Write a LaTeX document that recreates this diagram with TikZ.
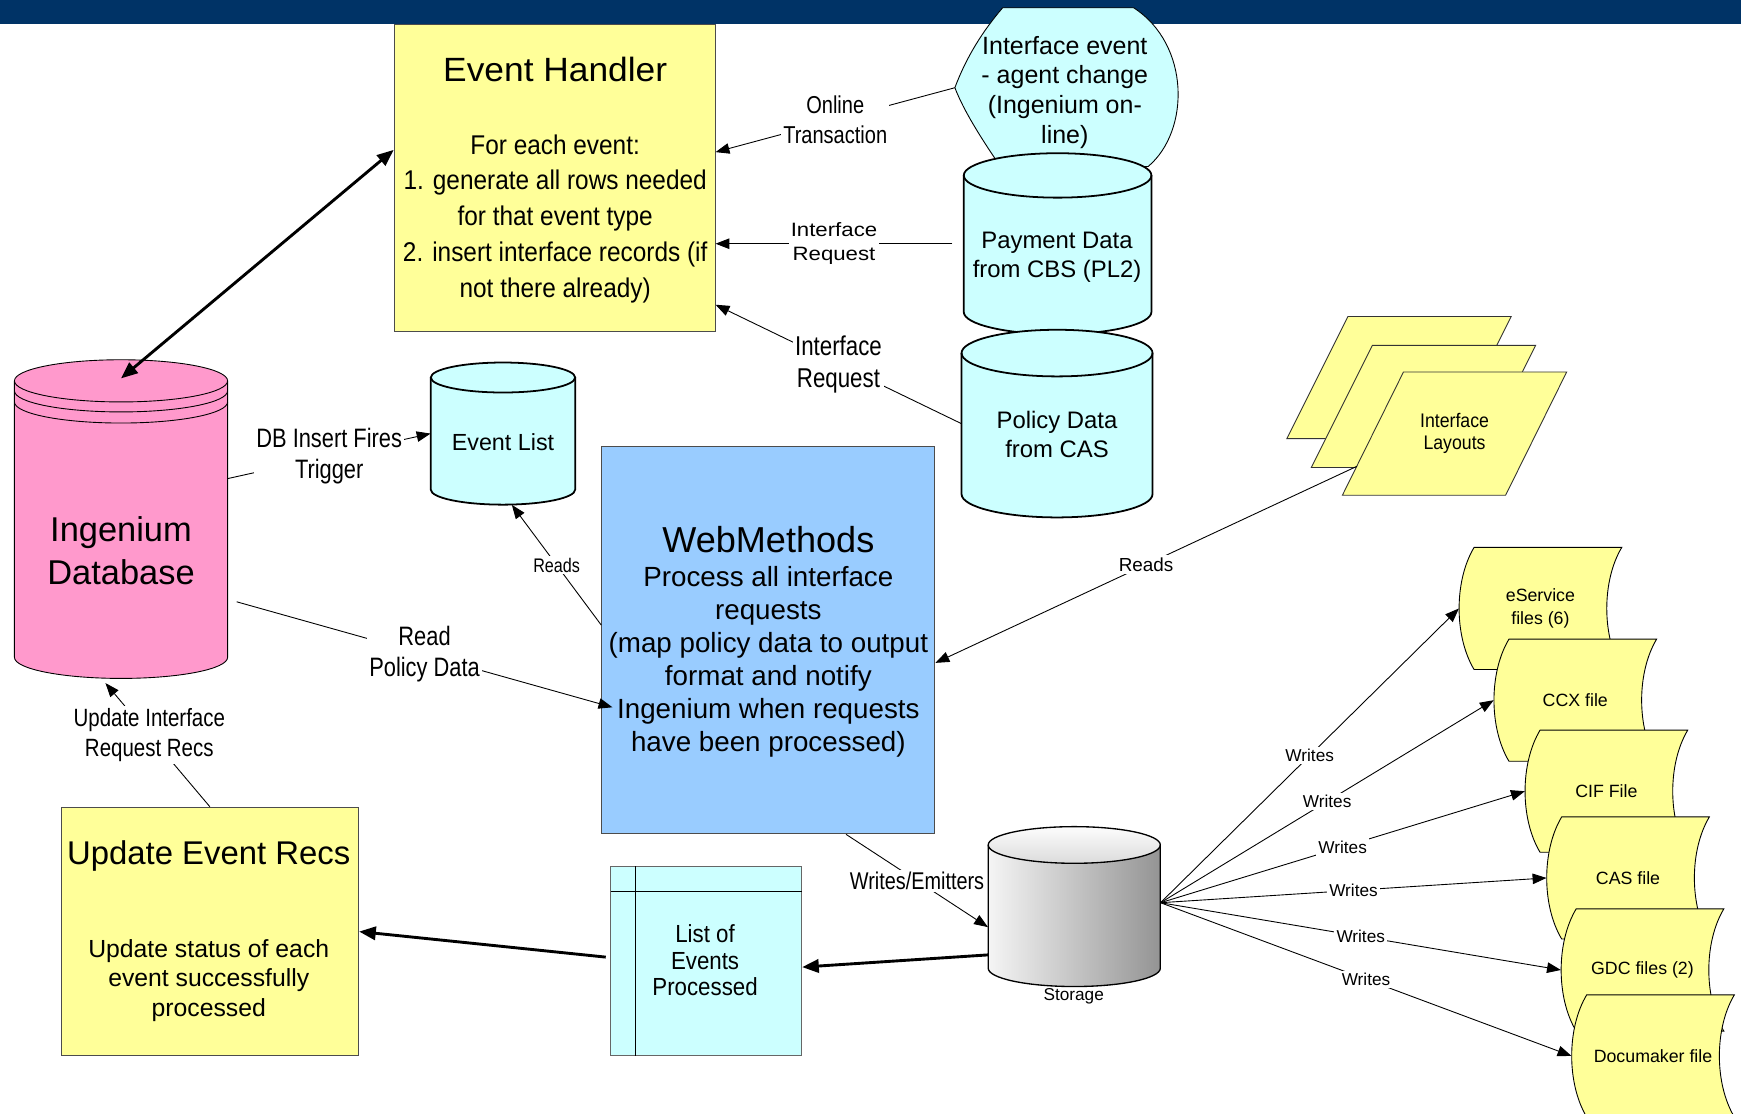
\documentclass[tikz,border=0pt]{standalone}
\usepackage{fontspec}
\setmainfont{Liberation Sans}
\newfontfamily\fN[FakeStretch=0.82]{Liberation Sans}
\newfontfamily\fS[FakeStretch=0.9]{Liberation Sans}
\newfontfamily\fW[FakeStretch=1.15]{Liberation Sans}
\newfontfamily\fT[FakeStretch=1.05]{Liberation Sans}
\usetikzlibrary{arrows.meta,calc}
\definecolor{hdr}{RGB}{0,51,102}
\definecolor{ylw}{RGB}{255,255,153}
\definecolor{cyn}{RGB}{204,255,255}
\definecolor{pnk}{RGB}{255,153,204}
\definecolor{blu}{RGB}{153,204,255}
\newcommand\fsz[2]{\fontsize{#1pt}{#2pt}\selectfont}
% name, cx, top-center y, bottom-center y, rx, ry, fill, line width
\newcommand\mycyl[8]{%
  \path[fill=#7] (#2-#5,#3) -- (#2-#5,#4) .. controls (#2-#5,#4+0.5523*#6) and (#2-0.5523*#5,#4+#6) .. (#2,#4+#6) .. controls (#2+0.5523*#5,#4+#6) and (#2+#5,#4+0.5523*#6) .. (#2+#5,#4) -- (#2+#5,#3) -- cycle;
  \draw[line width=#8, fill=#7] (#2,#3) ellipse [x radius=#5pt, y radius=#6pt];
  \draw[line width=#8] (#2-#5,#3) -- (#2-#5,#4) .. controls (#2-#5,#4+0.5523*#6) and (#2-0.5523*#5,#4+#6) .. (#2,#4+#6) .. controls (#2+0.5523*#5,#4+#6) and (#2+#5,#4+0.5523*#6) .. (#2+#5,#4) -- (#2+#5,#3);
  \node[inner sep=0pt, minimum width={2*#5*1pt}, minimum height={(#4-#3+2*#6)*1pt}] (#1) at (#2,{(#3+#4)/2}) {};
}
% name, X (top-left), Y (top), text
\newcommand\myfile[4]{%
  \draw[line width=0.8pt, fill=ylw] (#2,#3) -- (#2+133,#3) .. controls (#2+115,#3+30) and (#2+115,#3+80) .. (#2+133,#3+110) -- (#2,#3+110) .. controls (#2-18,#3+80) and (#2-18,#3+30) .. (#2,#3) -- cycle;
  \node[inner sep=0pt, align=center, font=\fsz{16}{20}, minimum width=146.5pt, minimum height=110pt] (#1) at (#2+59.75,#3+55) {#4};
}
\tikzset{
  conn/.style={draw=black, line width=0.8pt},
  arr/.style={conn, -{Triangle[length=12.5pt,width=9.5pt]}},
  dblarr/.style={draw=black, line width=2.6pt, {Triangle[length=15pt,width=12pt]}-{Triangle[length=15pt,width=12pt]}},
  thickarr/.style={draw=black, line width=2.6pt, -{Triangle[length=15pt,width=12pt]}},
  lbl/.style={fill=white, inner sep=2pt, align=center},
  boxst/.style={draw=black!70, line width=0.9pt, inner sep=0pt},
  para/.style={draw=black!80, line width=0.8pt, fill=ylw},
  txt/.style={inner sep=0pt, align=center},
}
\begin{document}
\begin{tikzpicture}[x=1pt, y=-1pt]
\useasboundingbox (0,0) rectangle (1568,1003);
\clip (0,0) rectangle (1568,1003);
% header bar
\fill[hdr] (0,0) rectangle (1568,22);

% display shape: interface event
\draw[line width=0.8pt, fill=cyn] (903,7) -- (1021,7) .. controls (1072,40) and (1072,118) .. (1034,150) -- (901,150) .. controls (884,125) and (868,100) .. (860,79) .. controls (870,52) and (885,28) .. (903,7) -- cycle;
\coordinate (ievpt) at (860,79);
\node[txt, font=\fsz{22.5}{26.7}] (iev) at (959,83) {Interface event\\- agent change\\(Ingenium on-\\line)};

% Event Handler
\node[boxst, fill=ylw, minimum width=289pt, minimum height=277pt] (eh) at (499.5,160.5) {};
\node[txt, font={\fT\fsz{30.3}{34}}] (ehT) at (500,63) {Event Handler};
\node[txt, font={\fS\fsz{24.4}{32.25}}] (ehB) at (500,197) {For each event:\\1. generate all rows needed\\for that event type\\2. insert interface records (if\\not there already)};

% Payment / Policy cylinders
\mycyl{pay}{952.5}{158}{281}{84.5}{20}{cyn}{1.6pt}
\node[txt, font=\fsz{21.5}{26}] (payT) at (952,232) {Payment Data\\from CBS (PL2)};
\mycyl{pol}{952}{318}{445}{86}{21}{cyn}{1.6pt}
\node[txt, font=\fsz{21.5}{26}] (polT) at (952,391) {Policy Data\\from CAS};

% Ingenium Database
\mycyl{db}{109}{343}{592}{96}{19}{pnk}{0.8pt}
\draw[line width=0.8pt] (13,352) .. controls (13,362.5) and (56,371) .. (109,371) .. controls (162,371) and (205,362.5) .. (205,352);
\draw[line width=0.8pt] (13,362) .. controls (13,372.5) and (56,381) .. (109,381) .. controls (162,381) and (205,372.5) .. (205,362);
\node[txt, font=\fsz{31}{39}] (dbT) at (109,496) {Ingenium\\Database};

% Event List
\mycyl{el}{453}{340}{441}{65}{13.5}{cyn}{1.6pt}
\node[txt, font=\fsz{21}{25}] (elT) at (453,398) {Event List};

% WebMethods
\node[boxst, fill=blu, minimum width=300pt, minimum height=349pt] (wm) at (692,576.5) {};
\node[txt, font=\fsz{32.5}{36}] (wmT) at (692,486) {WebMethods};
\node[txt, font=\fsz{25}{29.8}] (wmB) at (692,596) {Process all interface\\requests\\(map policy data to output\\format and notify\\Ingenium when requests\\have been processed)};

% Interface Layouts (stacked)
\draw[para] (1214,285) -- (1361,285) -- (1306,395) -- (1159,395) -- cycle;
\draw[para] (1236,311) -- (1383,311) -- (1328,421) -- (1181,421) -- cycle;
\draw[para] (1264,335) -- (1411,335) -- (1356,446) -- (1209,446) -- cycle;
\node[txt, font={\fS\fsz{17.7}{20}}] (lay) at (1310,390) {Interface\\Layouts};
\coordinate (layin) at (1222,420);

% output files
\myfile{fes}{1327.6}{493}{eService\\files (6)}
\myfile{fccx}{1359}{575.6}{CCX file}
\myfile{fcif}{1387}{657.6}{CIF File}
\myfile{fcas}{1406.5}{735.7}{CAS file}
\myfile{fgdc}{1419.5}{818.6}{GDC files (2)}
\myfile{fdoc}{1429}{896}{Documaker file}

% Storage
\shade[left color=black!4, right color=black!42] (890,761) -- (890,872) .. controls (890,881.1) and (924.7,888.5) .. (967.5,888.5) .. controls (1010.3,888.5) and (1045,881.1) .. (1045,872) -- (1045,761) -- cycle;
\shade[top color=black!1, bottom color=black!14] (967.5,761) ellipse [x radius=77.5pt, y radius=16.5pt];
\draw[line width=1.2pt] (967.5,761) ellipse [x radius=77.5pt, y radius=16.5pt];
\draw[line width=1.2pt] (890,761) -- (890,872) .. controls (890,881.1) and (924.7,888.5) .. (967.5,888.5) .. controls (1010.3,888.5) and (1045,881.1) .. (1045,872) -- (1045,761);
\node[inner sep=0pt, minimum width=155pt, minimum height=144pt] (sto) at (967.5,816.5) {};
\node[txt, font=\fsz{15.5}{18}] (stoT) at (967,897) {Storage};

% List of Events Processed
\node[draw=black!60, line width=0.9pt, fill=cyn, minimum width=172pt, minimum height=171pt, inner sep=0pt] (lst) at (636,865.5) {};
\draw[line width=0.7pt] (572.5,780) -- (572.5,951);
\draw[line width=0.7pt] (550,803) -- (722,803);
\node[txt, font={\fS\fsz{22.3}{24}}] (lstT) at (635,865) {List of\\Events\\Processed};

% Update Event Recs
\node[boxst, fill=ylw, minimum width=268pt, minimum height=224pt] (uer) at (189,839) {};
\node[txt, font=\fsz{29.6}{34}] (uerT) at (188,771) {Update Event Recs};
\node[txt, font=\fsz{22.3}{26.5}] (uerB) at (188,883) {Update status of each\\event successfully\\processed};

% connectors
\draw[dblarr] ([yshift=-17pt]db.north) -- ([yshift=25.5pt]eh.west);
\draw[arr] (ievpt) -- node[lbl, font={\fN\fsz{22}{27}}] {Online\\Transaction} ([yshift=23.5pt]eh.east);
\draw[arr] ([xshift=-10pt]pay.west) -- node[lbl, font={\fW\fsz{17.4}{22}}] {Interface\\Request} (pay.west -| eh.east);
\draw[arr] (pol.west) -- node[lbl, font={\fN\fsz{24.5}{29}}] {Interface\\Request} ([yshift=25pt]eh.south east);
\draw[arr] ([yshift=36.5pt]db.east) -- node[lbl, font={\fN\fsz{24}{28}}] {DB Insert Fires\\Trigger} (el.west);
\draw[arr] ([yshift=13.5pt]wm.west) -- node[lbl, font={\fN\fsz{17.7}{20}}] {Reads} ([xshift=8pt]el.south);
\draw[arr] ([xshift=8pt,yshift=-74.5pt]db.east) -- node[lbl, font={\fN\fsz{24}{28}}] {Read\\Policy Data} ([xshift=10pt,yshift=-60.5pt]wm.west);
\draw[arr] (layin) -- node[lbl, font=\fsz{17}{20}] {Reads} ([yshift=-20.5pt]wm.east);
\draw[arr] (uer.north) -- node[lbl, pos=0.58, font={\fN\fsz{22.5}{27}}] {Update Interface\\Request Recs} ([xshift=-14pt,yshift=-4pt]db.south);
\draw[arr] ([xshift=70pt]wm.south) -- node[lbl, font={\fN\fsz{21.8}{26}}] {Writes/Emitters} ([yshift=-18.5pt]sto.west);
\draw[thickarr] ([yshift=-43.5pt]sto.west) -- ([yshift=-5.5pt]lst.east);
\draw[thickarr] ([xshift=-4pt,yshift=3.5pt]lst.west) -- (uer.east);
\foreach \f in {fes,fccx,fcif,fcas,fgdc,fdoc}
  \draw[arr] ([yshift=3.5pt]sto.east) -- node[lbl, font=\fsz{15.5}{18}] {Writes} (\f.west);
\end{tikzpicture}
\end{document}
